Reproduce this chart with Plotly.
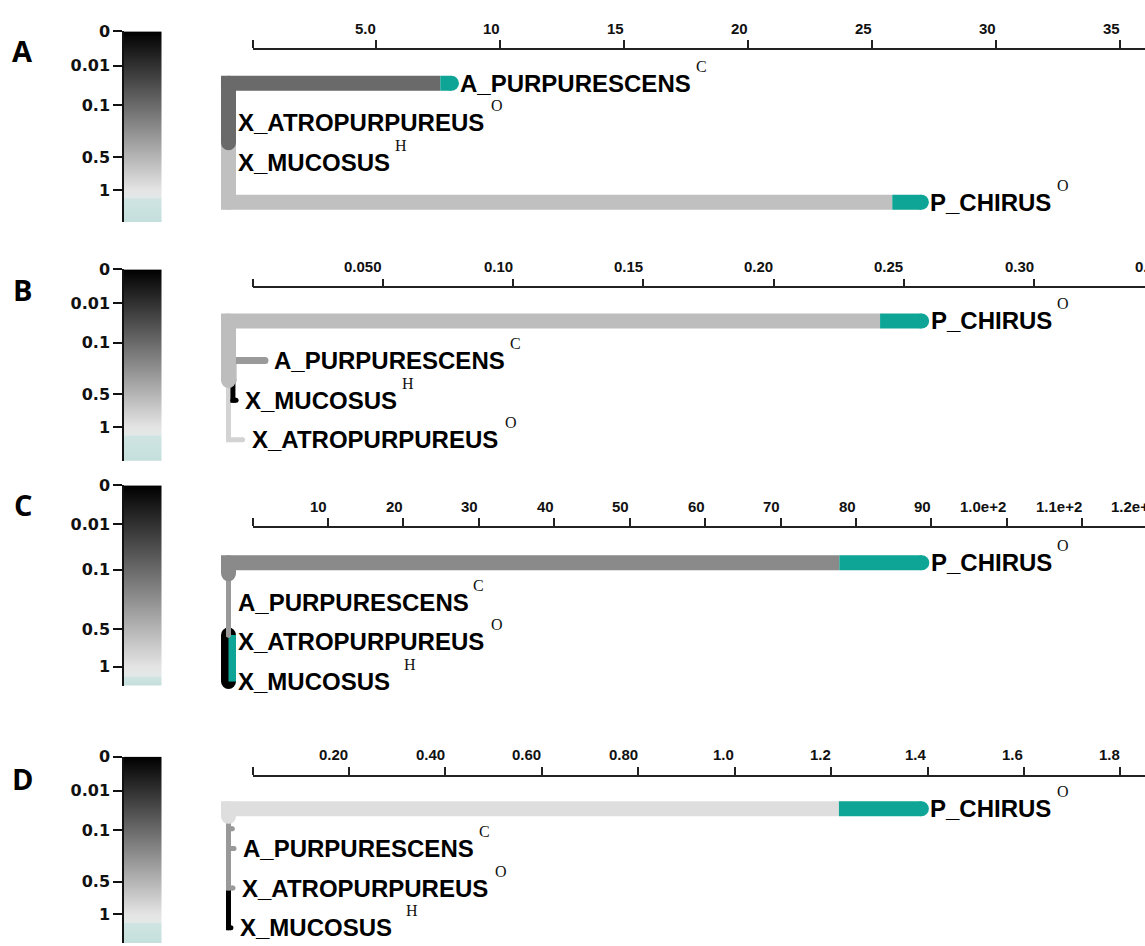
import numpy as np
import plotly.graph_objects as go

W, H = 1145, 946

# ---------------- data ----------------
LETTERS = ["A", "B", "C", "D"]
TRAIT = {"A_PURPURESCENS": "C", "X_ATROPURPUREUS": "O", "X_MUCOSUS": "H", "P_CHIRUS": "O"}

CB_TICKS = [0, 0.01, 0.1, 0.5, 1]
CB_TICKTEXT = ["0", "0.01", "0.1", "0.5", "1"]

# top axis ticks per panel
A_TICKS = [0, 5, 10, 15, 20, 25, 30, 35]
A_TICKTEXT = ["", "5.0", "10", "15", "20", "25", "30", "35"]
B_TICKS = [0, 0.05, 0.10, 0.15, 0.20, 0.25, 0.30, 0.35]
B_TICKTEXT = ["", "0.050", "0.10", "0.15", "0.20", "0.25", "0.30", "0.35"]
C_TICKS = [0, 10, 20, 30, 40, 50, 60, 70, 80, 90, 100, 110, 120]
C_TICKTEXT = ["", "10", "20", "30", "40", "50", "60", "70", "80", "90", "1.0e+2", "1.1e+2", "1.2e+2"]
D_TICKS = [0, 0.2, 0.4, 0.6, 0.8, 1.0, 1.2, 1.4, 1.6, 1.8]
D_TICKTEXT = ["", "0.20", "0.40", "0.60", "0.80", "1.0", "1.2", "1.4", "1.6", "1.8"]

# leaves, top to bottom
A_LEAVES = ["A_PURPURESCENS", "X_ATROPURPUREUS", "X_MUCOSUS", "P_CHIRUS"]
B_LEAVES = ["P_CHIRUS", "A_PURPURESCENS", "X_MUCOSUS", "X_ATROPURPUREUS"]
C_LEAVES = ["P_CHIRUS", "A_PURPURESCENS", "X_ATROPURPUREUS", "X_MUCOSUS"]
D_LEAVES = ["P_CHIRUS", "A_PURPURESCENS", "X_ATROPURPUREUS", "X_MUCOSUS"]

# internal nodes: vertical layout slot (in leaf units)
A_INTERNAL = {"root": 1.5}
B_INTERNAL = {"root": 1.5, "n1": 1.5}
C_INTERNAL = {"root": 0.275, "n1": 1.825}
D_INTERNAL = {"root": 0.19, "n1": 0.5}

# branches (draw order): child, parent, length, omega classes, proportions
A_CHILD = ["X_ATROPURPUREUS", "X_MUCOSUS", "P_CHIRUS", "A_PURPURESCENS"]
A_PARENT = ["root", "root", "root", "root"]
A_LENGTH = [0.0, 0.0, 27.94, 8.99]
A_OMEGA = [[0.10], [0.60], [0.60, 5.0], [0.10, 5.0]]
A_PROP = [[1.0], [1.0], [0.958, 0.042], [0.95, 0.05]]

B_CHILD = ["X_ATROPURPUREUS", "n1", "X_MUCOSUS", "A_PURPURESCENS", "P_CHIRUS"]
B_PARENT = ["root", "root", "n1", "n1", "root"]
B_LENGTH = [0.0054, 0.0017, 0.0012, 0.0123, 0.266]
B_OMEGA = [[0.79], [0.57], [0.0], [0.31], [0.57, 5.0]]
B_PROP = [[1.0], [1.0], [1.0], [1.0], [0.94, 0.06]]

C_CHILD = ["X_ATROPURPUREUS", "X_MUCOSUS", "A_PURPURESCENS", "n1", "P_CHIRUS"]
C_PARENT = ["n1", "n1", "n1", "root", "root"]
C_LENGTH = [0.0, 0.05, 0.0, 0.0, 91.9]
C_OMEGA = [[0.30], [0.0, 5.0], [0.30], [0.30], [0.22, 5.0]]
C_PROP = [[1.0], [0.5, 0.5], [1.0], [1.0], [0.881, 0.119]]

D_CHILD = ["X_MUCOSUS", "X_ATROPURPUREUS", "A_PURPURESCENS", "n1", "P_CHIRUS"]
D_PARENT = ["root", "root", "root", "root", "root"]
D_LENGTH = [0.005, 0.0093, 0.0114, 0.008, 1.437]
D_OMEGA = [[0.0], [0.30], [0.30], [0.30], [0.92, 5.0]]
D_PROP = [[1.0], [1.0], [1.0], [1.0], [0.881, 0.119]]

# ---------------- styling / layout ----------------
TEAL = "#0ea596"
LABEL_FONT = "Liberation Sans"
LABEL_SIZE = 24
SUP_FONT = "Liberation Serif"
AXIS0_PX = 252.5           # pixel where each top axis starts (value 0)
ROOT_SHIFT_PX = -24.0      # tree root is drawn left of axis origin
LEAF_STEP = 40.0

PANELS = [
    dict(leaves=A_LEAVES, internal=A_INTERNAL, child=A_CHILD, parent=A_PARENT, length=A_LENGTH,
         omega=A_OMEGA, prop=A_PROP, ticks=A_TICKS, ticktext=A_TICKTEXT,
         widths=[15, 15, 15, 15], xmax=35.99, axis_py=41.5, leaf0_py=75.0,
         cb=(22.7, 182.7, 215.0), letter_py=42),
    dict(leaves=B_LEAVES, internal=B_INTERNAL, child=B_CHILD, parent=B_PARENT, length=B_LENGTH,
         omega=B_OMEGA, prop=B_PROP, ticks=B_TICKS, ticktext=B_TICKTEXT,
         widths=[5, 5, 5, 7, 15], xmax=0.3425, axis_py=282.0, leaf0_py=315.0,
         cb=(263.0, 422.0, 456.0), letter_py=283),
    dict(leaves=C_LEAVES, internal=C_INTERNAL, child=C_CHILD, parent=C_PARENT, length=C_LENGTH,
         omega=C_OMEGA, prop=C_PROP, ticks=C_TICKS, ticktext=C_TICKTEXT,
         widths=[5, 15, 5, 5, 15], xmax=118.3, axis_py=524.0, leaf0_py=559.0,
         cb=(481.0, 664.0, 683.0), letter_py=500),
    dict(leaves=D_LEAVES, internal=D_INTERNAL, child=D_CHILD, parent=D_PARENT, length=D_LENGTH,
         omega=D_OMEGA, prop=D_PROP, ticks=D_TICKS, ticktext=D_TICKTEXT,
         widths=[5, 5, 5, 5, 15], xmax=1.851, axis_py=775.0, leaf0_py=807.5,
         cb=(755.0, 914.0, 943.0), letter_py=777),
]

ARIAL_BOLD = {'A': 722, 'C': 722, 'E': 667, 'H': 722, 'I': 278, 'M': 833, 'N': 722, 'O': 778,
              'P': 667, 'R': 722, 'S': 667, 'T': 611, 'U': 722, 'X': 667, '_': 556, ' ': 278}


def text_width(s, size):
    return sum(ARIAL_BOLD.get(c, 600) for c in s) * size / 1000.0


def omega_color(w):
    if w > 1:
        return TEAL
    g = int(round(228 * w ** (1.0 / 3.0)))
    return f"rgb({g},{g},{g})"


def px_x(px):
    return px / W


def px_y(py):
    return 1 - py / H


fig = go.Figure()
layout = {}
annotations = []


def add_line(xs, ys, color, width, xa, ya):
    fig.add_trace(go.Scatter(x=xs, y=ys, mode="lines", line=dict(color=color, width=width),
                             hoverinfo="skip", showlegend=False, xaxis=xa, yaxis=ya))


def add_caps(xs, ys, colors, width, xa, ya):
    fig.add_trace(go.Scatter(x=xs, y=ys, mode="markers",
                             marker=dict(color=colors, size=width, line=dict(width=0)),
                             hoverinfo="skip", showlegend=False, xaxis=xa, yaxis=ya))


TICKFONT = dict(family=LABEL_FONT, size=15, color="#111", weight="bold")

for p, P in enumerate(PANELS):
    kt, kk, kc = 3 * p + 1, 3 * p + 2, 3 * p + 3
    scale = (W - AXIS0_PX) / P["xmax"]          # px per unit
    xa, ya = f"x{kt}", f"y{kt}"

    # ---- tree axes ----
    tree_left_px = 190.0
    py_top, py_bot = P["axis_py"] + 3, min(P["axis_py"] + 200, H)
    layout[f"xaxis{kt}"] = dict(domain=[px_x(tree_left_px), 1],
                                range=[(tree_left_px - AXIS0_PX) / scale, P["xmax"]],
                                visible=False, anchor=ya)
    layout[f"yaxis{kt}"] = dict(domain=[px_y(py_bot), px_y(py_top)],
                                range=[(py_bot - P["leaf0_py"]) / LEAF_STEP,
                                       (py_top - P["leaf0_py"]) / LEAF_STEP],
                                visible=False, anchor=xa)

    # ---- top scale axis (line + ticks; labels right-aligned to ticks) ----
    in_ticks = [t for t in P["ticks"] if t <= P["xmax"]]
    layout[f"xaxis{kk}"] = dict(domain=[px_x(AXIS0_PX), 1], range=[0, P["xmax"]],
                                side="top", anchor=f"y{kk}", showline=True, linecolor="#222",
                                linewidth=1.5, ticks="outside", ticklen=8, tickwidth=1.5,
                                tickcolor="#222", tickvals=in_ticks, showticklabels=False,
                                showgrid=False, zeroline=False, fixedrange=True, visible=True)
    layout[f"yaxis{kk}"] = dict(domain=[px_y(P["axis_py"] + 4), px_y(P["axis_py"])],
                                range=[0, 1], showline=False, showticklabels=False,
                                ticks="", showgrid=False, zeroline=False, anchor=f"x{kk}")
    # invisible carrier trace so the scale subplot is always drawn
    fig.add_trace(go.Scatter(x=[P["xmax"] / 2], y=[0.5], mode="markers",
                             marker=dict(size=1, opacity=0), hoverinfo="skip",
                             showlegend=False, xaxis=f"x{kk}", yaxis=f"y{kk}"))
    for i, t in enumerate(P["ticks"]):
        if not P["ticktext"][i]:
            continue
        if t <= P["xmax"]:
            xpos, xref = t, f"x{kk}"
        else:
            xpos, xref = px_x(AXIS0_PX + t * scale), "paper"
        annotations.append(dict(x=xpos, y=px_y(P["axis_py"] - 11.5), xref=xref, yref="paper",
                                text=P["ticktext"][i], showarrow=False, xanchor="right",
                                yanchor="bottom", xshift=1.5, font=TICKFONT))

    # ---- colour bar ----
    cb_top, cb_one, cb_bot = P["cb"]
    ymax = (cb_bot - cb_top) / (cb_one - cb_top)
    ygrid = np.linspace(0, ymax, 400)
    one_frac = 1.0 / ymax
    teal_frac = min(1.05 / ymax, 0.999)
    cscale = [[0, "#000000"], [one_frac, "#e4e4e4"], [teal_frac, "#e2e8e7"],
              [min(teal_frac + 0.005, 1), "#cfe4e2"], [1, "#c4dfdc"]]
    fig.add_trace(go.Heatmap(z=ygrid.reshape(-1, 1), x=[0], y=ygrid, colorscale=cscale,
                             zmin=0, zmax=ymax, showscale=False, hoverinfo="skip",
                             xaxis=f"x{kc}", yaxis=f"y{kc}"))
    layout[f"xaxis{kc}"] = dict(domain=[px_x(124), px_x(161.5)], range=[-0.5, 0.5],
                                visible=False, anchor=f"y{kc}")
    layout[f"yaxis{kc}"] = dict(domain=[px_y(cb_bot), px_y(cb_top)], range=[ymax, 0],
                                anchor=f"x{kc}", showline=True, linecolor="#111", linewidth=1.5,
                                ticks="outside", ticklen=9, tickwidth=1.5, tickcolor="#111",
                                tickvals=[v ** (1.0 / 3.0) for v in CB_TICKS], ticktext=CB_TICKTEXT,
                                tickfont=dict(family="DejaVu Sans", size=16, color="#111",
                                              weight="bold"),
                                showgrid=False, zeroline=False)

    # ---- tree geometry ----
    node_y = {name: i for i, name in enumerate(P["leaves"])}
    node_y.update(P["internal"])
    node_x = {"root": ROOT_SHIFT_PX / scale}
    pending = list(zip(P["child"], P["parent"], P["length"]))
    while pending:
        rest = []
        for c, par, L in pending:
            if par in node_x:
                node_x[c] = node_x[par] + L
            else:
                rest.append((c, par, L))
        pending = rest

    for b, c in enumerate(P["child"]):
        par = P["parent"][b]
        w = P["widths"][b]
        x0, y0 = node_x[par], node_y[par]
        x1, y1 = node_x[c], node_y[c]
        cols = [omega_color(o) for o in P["omega"][b]]
        cum = np.concatenate([[0], np.cumsum(P["prop"][b])])
        L = x1 - x0
        if L * scale < 2 and len(cols) > 1:
            # gradient across a (nearly) vertical branch: split side by side
            add_line([x0, x0], [y0, y1], cols[0], w, xa, ya)
            add_caps([x0, x0], [y0, y1], [cols[0]] * 2, w, xa, ya)
            dx = w / 4.0 / scale
            add_line([x0 + dx, x0 + dx], [y0, y1], cols[-1], w / 2.0, xa, ya)
            continue
        add_line([x0, x0, x0 + cum[1] * L], [y0, y1, y1], cols[0], w, xa, ya)
        for k in range(1, len(cols)):
            add_line([x0 + cum[k] * L, x0 + cum[k + 1] * L], [y1, y1], cols[k], w, xa, ya)
        add_caps([x0, x0, x1], [y0, y1, y1], [cols[0], cols[0], cols[-1]], w, xa, ya)

    # ---- leaf labels ----
    for name in P["leaves"]:
        annotations.append(dict(x=node_x[name], y=node_y[name], xref=xa, yref=ya, text=name,
                                showarrow=False, xanchor="left", yanchor="middle", xshift=7,
                                font=dict(family=LABEL_FONT, size=LABEL_SIZE, color="#000",
                                          weight="bold")))
        gap = 14 if (name == "X_MUCOSUS" and p >= 2) else 5
        annotations.append(dict(x=node_x[name], y=node_y[name], xref=xa, yref=ya,
                                text=TRAIT[name], showarrow=False, xanchor="left",
                                yanchor="middle",
                                xshift=7 + text_width(name, LABEL_SIZE) + gap, yshift=17,
                                font=dict(family=SUP_FONT, size=16, color="#111")))

    # ---- panel letter ----
    annotations.append(dict(x=px_x(22.5), y=px_y(P["letter_py"]), xref="paper", yref="paper",
                            text=LETTERS[p], showarrow=False, xanchor="center", yanchor="middle",
                            font=dict(family="Open Sans", size=29, color="#000", weight="bold")))

fig.update_layout(width=W, height=H, margin=dict(l=0, r=0, t=0, b=0),
                  paper_bgcolor="white", plot_bgcolor="rgba(0,0,0,0)",
                  showlegend=False, annotations=annotations, **layout)

POST = ("document.documentElement.style.margin='0';"
        "document.body.style.margin='0';document.body.style.padding='0';"
        "var gd=document.getElementById('{plot_id}');"
        "gd.style.position='absolute';gd.style.left='0px';gd.style.top='0px';")
fig.write_html("out.html", post_script=POST, config={"displayModeBar": False})
